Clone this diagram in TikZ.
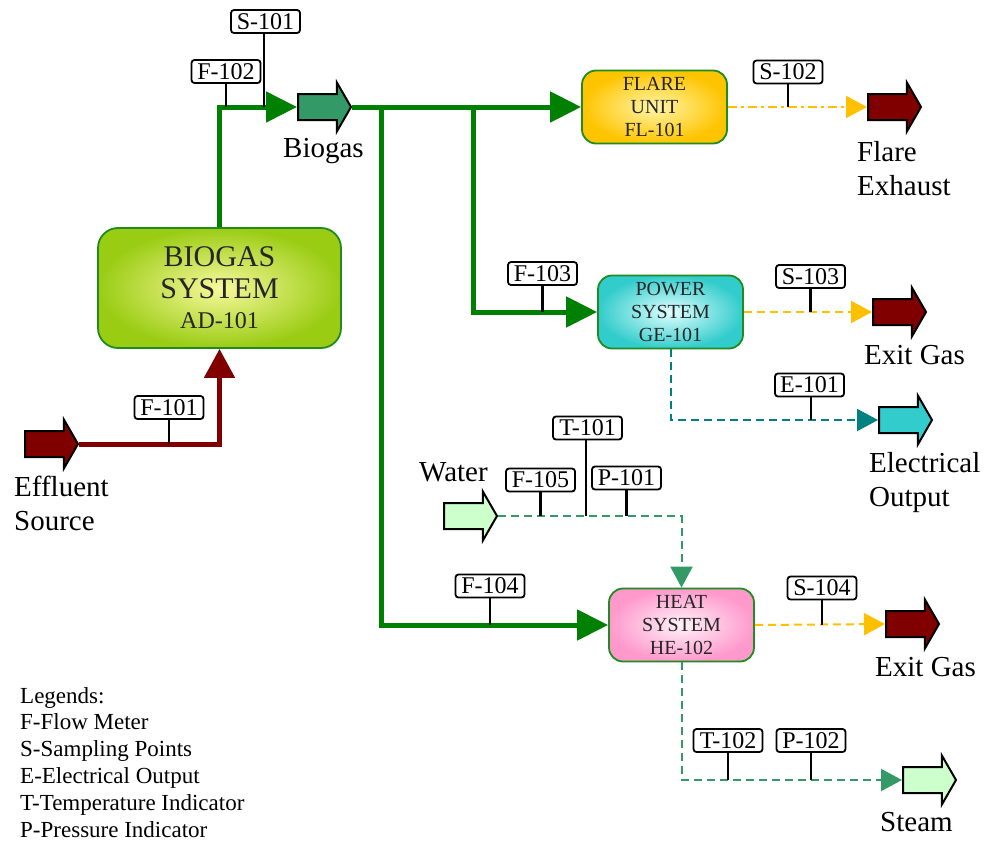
\documentclass[tikz,border=0pt]{standalone}
\usepackage{fontspec}
\setmainfont{Liberation Serif}
\usetikzlibrary{arrows.meta,shapes.arrows,calc}

\definecolor{pipegreen}{HTML}{008000}
\definecolor{effred}{HTML}{800000}
\definecolor{gasyellow}{HTML}{FFC000}
\definecolor{electeal}{HTML}{008080}
\definecolor{watergreen}{HTML}{339966}
\definecolor{palegreen}{HTML}{CCFFCC}
\definecolor{cyanfill}{HTML}{33CCCC}
\definecolor{boxedge}{HTML}{1E8C1E}
\definecolor{bioin}{HTML}{F8F99C}
\definecolor{bioout}{HTML}{9ACC14}
\definecolor{flarein}{HTML}{FFF6A8}
\definecolor{flareout}{HTML}{FFC400}
\definecolor{powerin}{HTML}{E2FFFF}
\definecolor{powerout}{HTML}{33CCCC}
\definecolor{heatin}{HTML}{FFF2F8}
\definecolor{heatout}{HTML}{FF99CC}

\newcommand\fsz[2]{\fontsize{#1}{#2}\selectfont}

\begin{document}
\begin{tikzpicture}[x=1pt,y=-1pt,
  unit/.style={draw=boxedge, line width=1.8pt, rounded corners=14pt,
    shading=radial, align=center, inner sep=0pt, text=black!85,
    minimum width=145pt, minimum height=73pt, font=\fsz{20}{23}},
  tag/.style={draw, line width=1.8pt, rounded corners=3pt, fill=white,
    minimum width=69pt, minimum height=23pt, inner sep=0pt, font=\fsz{24}{24}},
  stem/.style={line width=2.2pt},
  % for this shape, minimum height runs along the arrow and minimum width across it
  blockarrow/.style={single arrow, draw, line width=2pt, inner xsep=0pt, inner ysep=12pt,
    minimum height=53pt, minimum width=47pt, single arrow head extend=11.5pt,
    single arrow tip angle=120, single arrow head indent=0pt, anchor=tail},
  flowtext/.style={font=\fsz{29}{34}, align=left, inner sep=0pt, anchor=north west},
  mainpipe/.style={line width=5pt, pipegreen, -{Triangle[length=31pt,width=30pt]}},
  effpipe/.style={line width=5pt, effred, -{Triangle[length=29pt,width=30pt]}},
  thinline/.style={line width=2pt, dash pattern=on 8pt off 5pt, -{Triangle[length=21pt,width=22pt]}},
]
\useasboundingbox (0,0) rectangle (987,843);

% ---- process units ----
\node[unit, minimum width=243pt, minimum height=120pt, rounded corners=20pt,
      inner color=bioin, outer color=bioout, font=\fsz{30}{32}] (ad) at (219.5,288)
      {BIOGAS\\SYSTEM\\[-2pt]{\fsz{24}{32}AD-101}};
\node[unit, inner color=flarein, outer color=flareout] (fl) at (654.5,107)
      {FLARE\\UNIT\\FL-101};
\node[unit, inner color=powerin, outer color=powerout] (ge) at (670.5,312)
      {POWER\\SYSTEM\\GE-101};
\node[unit, inner color=heatin, outer color=heatout] (he) at (681.5,625)
      {HEAT\\SYSTEM\\HE-102};

% ---- inlet and outlet block arrows ----
\node[blockarrow, fill=effred] (effl) at (24,444) {};
\node[blockarrow, fill=watergreen] (bgarr) at (297,107) {};
\node[blockarrow, fill=effred] (flexh) at (867,107) {};
\node[blockarrow, fill=effred] (exg1) at (872,312) {};
\node[blockarrow, fill=cyanfill] (elec) at (878,420) {};
\node[blockarrow, fill=palegreen] (water) at (443,516) {};
\node[blockarrow, fill=effred] (exg2) at (885,624) {};
\node[blockarrow, fill=palegreen] (steam) at (902,780) {};

% ---- stream labels ----
\node[flowtext] (efflbl) at (14,476) {Effluent\\Source};
\node[flowtext] (bglbl) at (283,138) {Biogas};
\node[flowtext] (fxlbl) at (857,141) {Flare\\Exhaust};
\node[flowtext] (eg1lbl) at (864,345) {Exit Gas};
\node[flowtext] (eolbl) at (869,452) {Electrical\\Output};
\node[flowtext] (wlbl) at (419,462) {Water};
\node[flowtext] (eg2lbl) at (875,657) {Exit Gas};
\node[flowtext] (stlbl) at (880,812) {Steam};

% ---- legend ----
\node[flowtext, font=\fsz{23}{26.8}] (legend) at (20,687)
  {Legends:\\F-Flow Meter\\S-Sampling Points\\E-Electrical Output\\T-Temperature Indicator\\P-Pressure Indicator};

% ---- pipes ----
\coordinate (j1) at (381,107);
\coordinate (j2) at (473,107);
\draw[effpipe] (effl.tip) -| (ad.south);
\draw[mainpipe] (ad.north) |- (bgarr.tail);
\draw[mainpipe] (bgarr.tip) -- (fl.west);
\draw[mainpipe] (j1) |- (he.west);
\draw[mainpipe] (j2) |- (ge.west);

\draw[thinline, gasyellow, dash pattern=on 9pt off 4pt on 3pt off 4pt] (fl.east) -- (flexh.tail);
\draw[thinline, gasyellow] (ge.east) -- (exg1.tail);
\draw[thinline, gasyellow] (he.east) -- (exg2.tail);
\draw[thinline, electeal] (ge.south) |- (elec.tail);
\draw[thinline, watergreen] (water.tip) -| (he.north);
\draw[thinline, watergreen] (he.south) |- (steam.tail);

% ---- instrument tags ----
\node[tag] (f101) at (169,407.5) {F-101};
\node[tag] (f102) at (226,71.5) {F-102};
\node[tag] (s101) at (265.5,21.5) {S-101};
\node[tag] (s102) at (788,72) {S-102};
\node[tag] (f103) at (542.5,273.5) {F-103};
\node[tag] (s103) at (810.5,276.5) {S-103};
\node[tag] (e101) at (809.5,385) {E-101};
\node[tag] (t101) at (587.5,428) {T-101};
\node[tag] (f105) at (540.5,480) {F-105};
\node[tag] (p101) at (626.5,478) {P-101};
\node[tag] (f104) at (490,586) {F-104};
\node[tag] (s104) at (822,588) {S-104};
\node[tag] (t102) at (728,740.5) {T-102};
\node[tag] (p102) at (811,740.5) {P-102};

\draw[stem] (f101.south) -- (f101.south |- effl.tip);
\draw[stem] (f102.south) -- (f102.south |- bgarr.tail);
\draw[stem] ([xshift=-1.5pt]s101.south) -- ([xshift=-1.5pt]s101.south |- bgarr.tail);
\draw[stem] (s102.south) -- (s102.south |- fl.east);
\draw[stem] (f103.south) -- (f103.south |- ge.west);
\draw[stem] (s103.south) -- (s103.south |- ge.east);
\draw[stem] ([xshift=1.5pt]e101.south) -- ([xshift=1.5pt]e101.south |- elec.tail);
\draw[stem] ([xshift=-1.5pt]t101.south) -- ([xshift=-1.5pt]t101.south |- water.tip);
\draw[stem] (f105.south) -- (f105.south |- water.tip);
\draw[stem] (p101.south) -- (p101.south |- water.tip);
\draw[stem] (f104.south) -- (f104.south |- he.west);
\draw[stem] (s104.south) -- (s104.south |- he.east);
\draw[stem] (t102.south) -- (t102.south |- steam.tail);
\draw[stem] (p102.south) -- (p102.south |- steam.tail);
\end{tikzpicture}
\end{document}
